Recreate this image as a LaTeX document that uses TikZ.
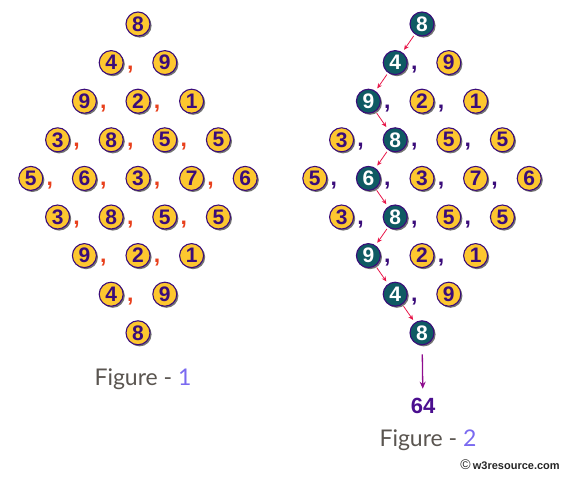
\documentclass[tikz,border=0pt]{standalone}
\usepackage{fontspec}
\setmainfont{Liberation Sans}
\newfontfamily\capfont{Lato}
\usetikzlibrary{shadows,arrows.meta}
\definecolor{ballyellow}{HTML}{FDC72F}
\definecolor{ink}{HTML}{3A0C7A}
\definecolor{ballteal}{HTML}{0F5A63}
\definecolor{comred}{HTML}{E8401C}
\definecolor{arrred}{HTML}{E8174A}
\definecolor{downpurple}{HTML}{8E0C8E}
\definecolor{sumpurple}{HTML}{4A0E8F}
\definecolor{capgray}{HTML}{5A5550}
\definecolor{capblue}{HTML}{7A6AF0}
\tikzset{
  yball/.style={circle, minimum size=24pt, inner sep=0pt, draw=ink, line width=1.1pt,
    fill=ballyellow, text=ink, font=\bfseries\fontsize{21}{21}\selectfont,
    drop shadow={shadow xshift=1.6pt, shadow yshift=-1.6pt, opacity=0.55, fill=black}},
  pathball/.style={yball, fill=ballteal, text=white},
  commastyle/.style={anchor=base, inner sep=0pt, font=\bfseries\fontsize{23}{23}\selectfont},
  redarrow/.style={draw=arrred, line width=0.8pt, shorten <=2pt, shorten >=3pt,
    -{Stealth[length=5pt,width=4.5pt]}},
  downarrow/.style={draw=downpurple, line width=1.3pt, shorten <=9pt, shorten >=6pt,
    -{Stealth[length=7pt,width=6pt]}},
  figcap/.style={font=\capfont\fontsize{23}{23}\selectfont, text=capgray}
}
\begin{document}
\begin{tikzpicture}[x=1pt,y=-1pt]
\useasboundingbox (0,0) rectangle (564,476);
\foreach \s/\cx in {0/138,1/422} {
  \foreach \r/\vals in {0/{8},1/{4,9},2/{9,2,1},3/{3,8,5,5},4/{5,6,3,7,6},5/{3,8,5,5},6/{9,2,1},7/{4,9},8/{8}} {
    \pgfmathtruncatemacro\c{min(\r,8-\r)+1}
    \pgfmathtruncatemacro\h{{0,0,0,1,1,1,0,0,0}[\r]}
    \foreach \v [count=\j from 0] in \vals {
      \pgfmathsetmacro\xx{\cx+(2*\j-(\c-1))*26.8}
      \pgfmathsetmacro\yy{24+\r*38.6}
      \pgfmathtruncatemacro\hl{and(\s==1,\j==\h)}
      \ifnum\hl=1 \def\st{pathball}\else\def\st{yball}\fi
      \ifnum\s=0 \def\cc{comred}\else\def\cc{ink}\fi
      \node[\st] (n-\s-\r-\j) at (\xx,\yy) {\v};
      \ifnum\j<\numexpr\c-1\relax
        \node[commastyle, text=\cc] (c-\s-\r-\j) at (\xx+19,\yy+7) {,};
      \fi
    }
  }
}
\foreach \a/\b/\e/\d in {0/0/1/0, 1/0/2/0, 2/0/3/1, 3/1/4/1, 4/1/5/1, 5/1/6/0, 6/0/7/0, 7/0/8/0}
  \draw[redarrow] (n-1-\a-\b) -- (n-1-\e-\d);
\node[font=\bfseries\fontsize{22}{22}\selectfont, text=sumpurple] (sum) at (423,406) {64};
\draw[downarrow] (n-1-8-0) -- (sum);
\node[figcap] (fig1) at (143,379) {Figure - \textcolor{capblue}{1}};
\node[figcap] (fig2) at (428,440) {Figure - \textcolor{capblue}{2}};
\node[font=\bfseries\fontsize{11}{11}\selectfont, text=black!85] (copy) at (510,465) {\fontsize{14}{14}\selectfont\mdseries ©\,\fontsize{11}{11}\selectfont\bfseries w3resource.com};
\end{tikzpicture}
\end{document}
